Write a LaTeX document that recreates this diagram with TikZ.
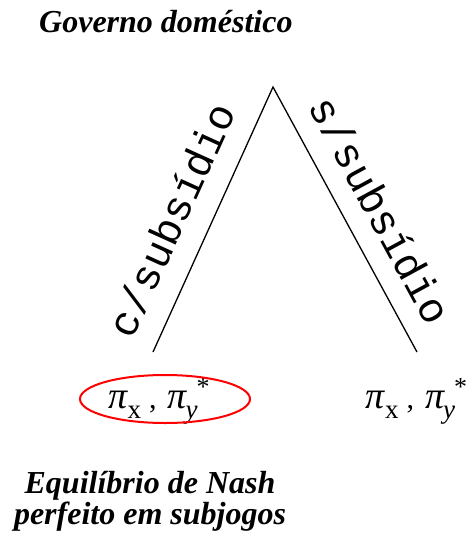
\documentclass[tikz,border=0pt]{standalone}
\usepackage{fontspec}
\setmainfont{Liberation Serif}
\newfontfamily\monofont{Liberation Mono}
\usetikzlibrary{calc,shapes.geometric}
\newcommand\pisym{{\fontsize{38}{38}\selectfont\itshape π}}
\newcommand\subx{\raisebox{-10pt}{\fontsize{27}{27}\selectfont x}}
\newcommand\suby{\raisebox{-10pt}{\fontsize{27}{27}\selectfont\itshape y}}
\newcommand\supstar{\raisebox{13pt}{\fontsize{26}{26}\selectfont *}}
\newcommand\payofftext{\pisym\subx\hspace{8pt},\hspace{11pt}\pisym\kern-1pt\suby\kern-1pt\supstar}
\begin{document}
\begin{tikzpicture}[x=1pt,y=-1pt,
  tree/.style={line width=1.3pt,black},
  heading/.style={font=\fontsize{32}{31}\selectfont\bfseries\itshape,inner sep=0pt},
  branchlbl/.style={font=\fontsize{42}{42}\selectfont\monofont,inner sep=0pt,anchor=base},
  payoff/.style={font=\fontsize{30}{30}\selectfont,inner sep=0pt,anchor=base}]
\useasboundingbox (0,0) rectangle (472,539);
\node[heading,anchor=base west] (title) at (39,32.5) {Governo doméstico};
\coordinate (apex) at (273,87);
\coordinate (L) at (153,352);
\coordinate (R) at (417,352);
\draw[tree,line join=miter] (L) -- (apex) -- (R);
\path (L) -- (apex) coordinate[pos=0.44] (ml);
\path (apex) -- (R) coordinate[pos=0.53] (mr);
\node[branchlbl,rotate=65.64] (lc) at ($(ml)!23pt!90:(apex)$) {c/subsídio};
\node[branchlbl,rotate=-61.48] (ls) at ($(mr)!21pt!-90:(apex)$) {s/subsídio};
\node[payoff] (pl) at (159,408) {\payofftext};
\node[payoff] (pr) at (416.5,408) {\payofftext};
\node[ellipse,draw=red,line width=2pt,minimum width=170pt,minimum height=48pt,inner sep=0pt] (eq) at (165,399) {};
\node[heading,anchor=base,align=center] (spe) at (150,524) {Equilíbrio de Nash\\perfeito em subjogos};
\end{tikzpicture}
\end{document}
